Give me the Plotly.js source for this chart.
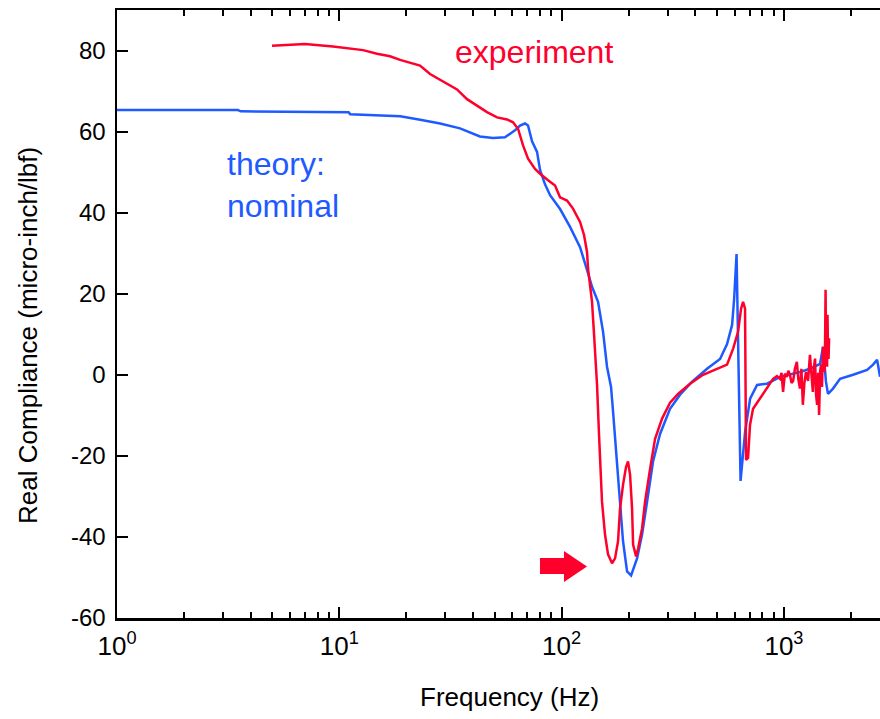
<!DOCTYPE html>
<html>
<head>
<meta charset="utf-8">
<script src="https://cdn.plot.ly/plotly-3.0.1.min.js"></script>
<style>
  html, body { margin: 0; padding: 0; background: #fff; overflow: hidden; }
  #chart { width: 880px; height: 719px; }
</style>
</head>
<body>
<div id="chart"></div>
<script>
// ---- data ----
const theoryFreq = [1, 3.5, 3.6, 11.0, 11.2, 15.7, 18.8, 23.1, 28.4, 34.9, 42.9, 49.1, 55.6, 61.7, 65.0, 68.4, 70.6, 73.6, 77.5, 80.0, 84.2, 88.7, 98.4, 109.1, 121.0, 131.5, 137.0, 145.8, 153.6, 160.0, 166.8, 170.3, 175.7, 183.2, 188.8, 196.9, 205.3, 218.4, 230.0, 242.3, 257.7, 277.1, 307.3, 341.0, 386.2, 451.0, 516.0, 554.7, 584.4, 596.9, 612.0, 638.0, 668.8, 704.3, 757.0, 839.5, 960.4, 1181, 1310, 1453, 1499, 1545, 1578, 1662, 1788, 2046, 2366, 2517, 2624, 2705];
const theoryVal  = [65.3, 65.3, 65.0, 64.8, 64.3, 64.0, 63.8, 62.9, 62.0, 60.8, 58.8, 58.4, 58.6, 60.3, 61.5, 62.0, 61.5, 57.6, 55.0, 50.5, 47.0, 44.3, 40.9, 36.5, 31.5, 25.0, 21.7, 18.0, 10.6, 2.0, -3.0, -9.0, -19.0, -31.3, -41.0, -48.5, -49.5, -45.3, -39.4, -31.3, -21.4, -14.6, -8.4, -4.9, -1.7, 1.5, 3.9, 7.6, 12.3, 18.7, 29.8, -26.2, -14.0, -5.9, -2.5, -2.2, -0.5, 0.7, 1.5, 2.7, 6.9, -1.7, -4.7, -3.4, -1.0, 0.0, 1.2, 2.5, 3.7, -0.5];

const expFreq = [4.98, 7.01, 9.37, 12.79, 14.77, 16.91, 18.76, 23.07, 25.59, 29.27, 33.84, 37.53, 41.64, 46.17, 51.22, 56.80, 60.44, 63.66, 67.05, 70.62, 75.92, 79.96, 86.88, 93.40, 98.36, 105.7, 112.5, 121.0, 126.1, 130.1, 131.5, 137.0, 139.9, 144.3, 147.3, 151.9, 156.7, 161.7, 168.5, 173.9, 179.4, 183.1, 188.9, 194.9, 198.9, 203.1, 207.4, 209.6, 216.2, 220.7, 230.0, 237.3, 249.9, 263.2, 283.0, 307.4, 333.9, 378.1, 432.6, 500.2, 554.6, 590.2, 621.6, 641.2, 654.6, 668.3, 675.3, 689.4, 703.8, 726.1, 780.6, 839.5, 893.4, 930, 959.5, 975, 990.8, 1010, 1030, 1047, 1064, 1082, 1100, 1120, 1143, 1160, 1180, 1198, 1216, 1236, 1256, 1283, 1309, 1330, 1349, 1365, 1380, 1395, 1410, 1425, 1439, 1455, 1469, 1483, 1498, 1514, 1522, 1531, 1539, 1546, 1555, 1563, 1570, 1578, 1587, 1596];
const expVal  = [81.2, 81.6, 81.0, 80.1, 79.2, 78.6, 77.7, 76.3, 74.2, 72.4, 70.4, 68.0, 66.3, 64.8, 63.5, 63.0, 62.3, 60.7, 56.6, 53.3, 50.8, 49.6, 48.0, 46.7, 43.8, 43.0, 41.0, 37.7, 34.5, 30.3, 26.1, 18.0, 9.9, -2.5, -14.8, -31.3, -39.4, -44.3, -46.5, -45.3, -41.0, -33.0, -27.1, -22.7, -21.4, -24.6, -33.0, -41.9, -44.8, -42.9, -37.9, -31.3, -23.2, -15.8, -10.8, -6.9, -4.7, -2.2, 0.0, 1.5, 2.5, 6.4, 10.6, 16.3, 18.0, 16.3, -21.0, -20.5, -12.3, -8.4, -5.9, -3.4, -1.0, -0.3, -1.0, 0.5, -4.2, 0.3, -0.5, 1.0, 0.0, -2.0, -1.5, 1.5, 3.2, -1.0, -3.4, 1.5, -7.4, -2.0, 0.7, -1.5, 4.9, 0.0, -4.2, 2.0, 4.0, -5.0, -7.4, 0.5, -9.9, 1.0, 2.5, -3.0, 6.9, 3.0, 0.7, 8.0, 21.0, 5.0, 10.0, 2.0, 14.8, 6.0, 3.9, 9.0, 8.1];

const xMajorVals = [1, 10, 100, 1000];
const xMajorText = ['10<sup>0</sup>', '10<sup>1</sup>', '10<sup>2</sup>', '10<sup>3</sup>'];
const xMinorVals = [2,3,4,5,6,7,8,9,20,30,40,50,60,70,80,90,200,300,400,500,600,700,800,900,2000];
const yTickVals = [-60, -40, -20, 0, 20, 40, 60, 80];
const yTickText = ['-60', '-40', '-20', '0', '20', '40', '60', '80'];

const RED = 'rgb(255,0,45)';
const BLUE = 'rgb(30,90,255)';
const FONT = 'Liberation Sans, Arial, sans-serif';

const traces = [
  { x: theoryFreq, y: theoryVal, type: 'scatter', mode: 'lines',
    line: { color: BLUE, width: 2.5 }, name: 'theory: nominal', hoverinfo: 'skip' },
  { x: expFreq, y: expVal, type: 'scatter', mode: 'lines',
    line: { color: RED, width: 2.5 }, name: 'experiment', hoverinfo: 'skip' }
];

const layout = {
  width: 880, height: 719,
  margin: { l: 117, r: 0, t: 10, b: 101 },
  paper_bgcolor: '#fff', plot_bgcolor: '#fff',
  showlegend: false,
  font: { family: FONT, color: '#000', size: 22 },
  xaxis: {
    type: 'log', range: [0, 3.432],
    tickmode: 'array', tickvals: xMajorVals, ticktext: xMajorText,
    ticks: 'inside', ticklen: 11, tickwidth: 2, tickcolor: '#000',
    showline: true, linecolor: '#000', linewidth: 2.5, mirror: 'ticks',
    showgrid: false, zeroline: false,
    tickfont: { family: FONT, size: 26 },
    ticklabelstandoff: 3,
    minor: { tickmode: 'array', tickvals: xMinorVals, ticks: 'inside', ticklen: 6, tickwidth: 2, tickcolor: '#000', showgrid: false }
  },
  yaxis: {
    range: [-60, 90],
    tickmode: 'array', tickvals: yTickVals, ticktext: yTickText,
    ticks: 'inside', ticklen: 11, tickwidth: 2, tickcolor: '#000',
    showline: true, linecolor: '#000', linewidth: 2.5,
    showgrid: false, zeroline: false,
    tickfont: { family: FONT, size: 24 },
    ticklabelstandoff: 4
  },
  annotations: [
    { text: 'Frequency (Hz)', xref: 'paper', yref: 'paper', x: 0.515, y: -0.130,
      xanchor: 'center', yanchor: 'middle', showarrow: false,
      font: { family: FONT, size: 26, color: '#000' } },
    { text: 'Real Compliance (micro-inch/lbf)', xref: 'paper', yref: 'paper', x: -0.1166, y: 0.464,
      xanchor: 'center', yanchor: 'middle', showarrow: false, textangle: -90,
      font: { family: FONT, size: 26, color: '#000' } },
    { text: 'experiment', xref: 'paper', yref: 'paper', x: 0.441, y: 0.931,
      xanchor: 'left', yanchor: 'middle', showarrow: false,
      font: { family: FONT, size: 32, color: RED } },
    { text: 'theory:<br>nominal', xref: 'paper', yref: 'paper', x: 0.142, y: 0.712,
      xanchor: 'left', yanchor: 'middle', align: 'left', showarrow: false,
      font: { family: FONT, size: 32, color: BLUE } }
  ],
  shapes: [
    { type: 'path', xref: 'paper', yref: 'paper',
      path: 'M0.5544,0.0987 L0.5858,0.0987 L0.5858,0.1102 L0.6160,0.0847 L0.5858,0.0592 L0.5858,0.0724 L0.5544,0.0724 Z',
      fillcolor: RED, line: { width: 0 } }
  ]
};

Plotly.newPlot('chart', traces, layout, { displayModeBar: false, staticPlot: true });
</script>
</body>
</html>
